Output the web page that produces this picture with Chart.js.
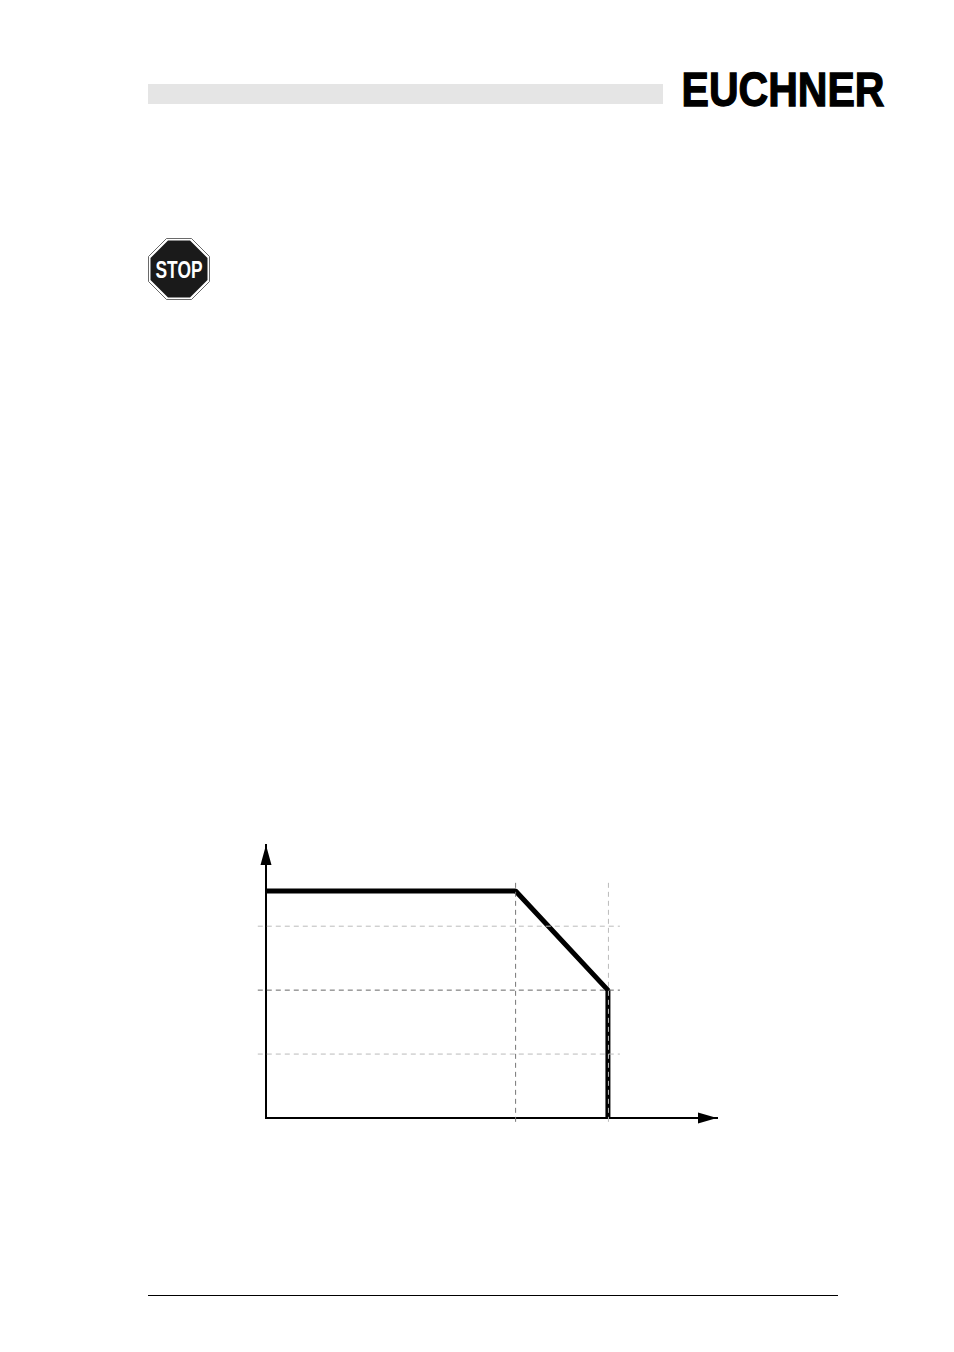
<!DOCTYPE html>
<html>
<head>
<meta charset="utf-8">
<title>EUCHNER</title>
<script src="https://cdn.jsdelivr.net/npm/chart.js@4/dist/chart.umd.min.js"></script>
<style>
  html, body { margin: 0; padding: 0; background: #fff; }
  .page { position: relative; width: 954px; height: 1352px; overflow: hidden; }
  .head-bar { position: absolute; left: 148px; top: 84px; width: 515px; height: 20px; background: #e5e5e5; }
  .foot-line { position: absolute; left: 148px; top: 1295px; width: 690px; height: 1px; background: #000; }
  .logo, .stop { position: absolute; }
  .logo { left: 680px; top: 64px; }
  .stop { left: 147px; top: 237px; }
  #curve { position: absolute; left: 0; top: 0; }
</style>
</head>
<body>
<div class="page">
  <div class="head-bar"></div>
  <svg class="logo" width="210" height="48">
    <text x="1.5" y="42" font-family="Liberation Sans, Arial, sans-serif" font-weight="bold" font-size="49" textLength="203" lengthAdjust="spacingAndGlyphs" fill="#000" stroke="#000" stroke-width="1.3">EUCHNER</text>
  </svg>
  <svg class="stop" width="64" height="64" viewBox="0 0 64 64">
    <polygon points="19.5,1.5 44.5,1.5 62.5,19.5 62.5,44.5 44.5,62.5 19.5,62.5 1.5,44.5 1.5,19.5" fill="#fff" stroke="#444" stroke-width="0.8"/>
    <polygon points="21,3.5 43,3.5 60.5,21 60.5,43 43,60.5 21,60.5 3.5,43 3.5,21" fill="#1a1a1a"/>
    <text x="32" y="41" text-anchor="middle" font-family="Liberation Sans, Arial, sans-serif" font-weight="bold" font-size="24" textLength="47" lengthAdjust="spacingAndGlyphs" fill="#fff">STOP</text>
  </svg>
  <div class="foot-line"></div>
  <canvas id="curve" width="954" height="1352"></canvas>
</div>
<script>
  // derating curve, x in percent of the last vertical guide, y in guide steps
  const curveX = [0, 73, 100, 100];
  const curveY = [3.55, 3.55, 2, 0];

  const guideLevels = [1, 2, 3];
  const guideLevelColors = ['#bbbbbb', '#666666', '#bbbbbb'];
  const guidePositions = [73, 100.15];
  const guidePositionColors = ['#777777', '#bbbbbb'];

  const xRange = [0, 132.2];
  const yRange = [0, 4.27];
  const guideXRange = [-2.4, 103.5];
  const guideYRange = [-0.06, 3.7];

  const dash = [5, 4];

  const toPoints = (xs, ys) => xs.map((x, i) => ({ x, y: ys[i] }));

  const guideDataset = (data, color) => ({
    data,
    showLine: true,
    borderColor: color,
    borderWidth: 1,
    borderDash: dash,
    pointRadius: 0,
    clip: false,
  });

  const levelGuides = guideLevels.map((level, i) => guideDataset(
    toPoints(guideXRange, [level, level]), guideLevelColors[i]
  ));
  const positionGuides = guidePositions.map((position, i) => guideDataset(
    toPoints([position, position], guideYRange), guidePositionColors[i]
  ));

  // solid heads on the ends of both axes
  const axisArrows = {
    id: 'axisArrows',
    afterDatasetsDraw(chart) {
      const { ctx, chartArea: area } = chart;
      ctx.save();
      ctx.fillStyle = '#000';
      ctx.beginPath();
      ctx.moveTo(area.left, area.top);
      ctx.lineTo(area.left - 5.5, area.top + 20);
      ctx.lineTo(area.left + 5.5, area.top + 20);
      ctx.closePath();
      ctx.moveTo(area.right, area.bottom);
      ctx.lineTo(area.right - 19, area.bottom - 5.5);
      ctx.lineTo(area.right - 19, area.bottom + 5.5);
      ctx.closePath();
      ctx.fill();
      ctx.restore();
    },
  };

  const hiddenAxis = (range) => ({
    type: 'linear',
    min: range[0],
    max: range[1],
    grid: { display: false, drawTicks: false },
    border: { display: true, color: '#000', width: 2 },
    ticks: { display: false },
  });

  // first dataset paints last, so the guides stay on top of the curve
  new Chart(document.getElementById('curve'), {
    type: 'scatter',
    data: {
      datasets: [
        ...levelGuides,
        ...positionGuides,
        {
          data: toPoints(curveX, curveY),
          showLine: true,
          borderColor: '#000',
          borderWidth: 5,
          borderJoinStyle: 'bevel',
          pointRadius: 0,
          clip: false,
        },
      ],
    },
    options: {
      responsive: false,
      animation: false,
      layout: { padding: { left: 266, top: 845, right: 237, bottom: 234 } },
      plugins: { legend: { display: false }, tooltip: { enabled: false } },
      scales: { x: hiddenAxis([xRange[0], xRange[1] - 0.3]), y: hiddenAxis(yRange) },
    },
    plugins: [axisArrows],
  });
</script>
</body>
</html>
